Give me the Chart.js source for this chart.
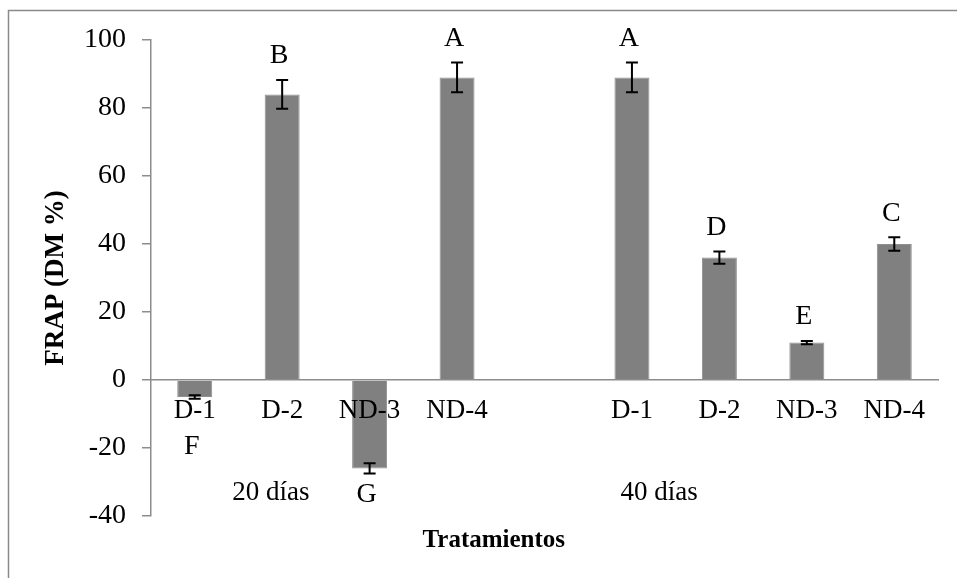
<!DOCTYPE html>
<html>
<head>
<meta charset="utf-8">
<script src="https://cdn.jsdelivr.net/npm/chart.js@4/dist/chart.umd.min.js"></script>
<style>
  html, body { margin: 0; padding: 0; background: #fff; }
  #wrap { width: 957px; height: 578px; position: relative; }
</style>
</head>
<body>
<div id="wrap"><canvas id="chart"></canvas></div>
<script>
const categories = ['D-1', 'D-2', 'ND-3', 'ND-4', '', 'D-1', 'D-2', 'ND-3', 'ND-4'];
const frap = [-5, 84, -26, 89, null, 89, 36, 11, 40];
const errors = [0.5, 4.2, 1.5, 4.4, null, 4.4, 1.8, 0.5, 2];
const letters = ['F', 'B', 'G', 'A', '', 'A', 'D', 'E', 'C'];
const groups = ['20 días', '40 días'];

const serif = '"Liberation Serif", "Times New Roman", serif';
const axisGray = '#8c8c8c';

// marco del gráfico (solo arriba e izquierda, como en el original)
const framePlugin = {
  id: 'frame',
  beforeDraw(chart) {
    const c = chart.ctx;
    c.save();
    c.strokeStyle = '#8a8a8a';
    c.lineWidth = 1.5;
    c.beginPath();
    c.moveTo(8.5, chart.height);
    c.lineTo(8.5, 10.5);
    c.lineTo(chart.width, 10.5);
    c.stroke();
    c.restore();
  }
};

// barras de error + letras
const errorPlugin = {
  id: 'errors',
  afterDatasetsDraw(chart) {
    const c = chart.ctx;
    const y = chart.scales.y;
    const meta = chart.getDatasetMeta(0);
    const zero = y.getPixelForValue(0);
    c.save();
    c.strokeStyle = '#000';
    c.lineWidth = 2;
    c.fillStyle = '#000';
    c.font = '28px ' + serif;
    c.textAlign = 'center';
    c.textBaseline = 'middle';
    frap.forEach((v, i) => {
      if (v === null) return;
      const x = meta.data[i].x;
      const top = y.getPixelForValue(v + errors[i]);
      const bot = y.getPixelForValue(v - errors[i]);
      c.beginPath();
      c.moveTo(x, top); c.lineTo(x, bot);
      c.moveTo(x - 6, top); c.lineTo(x + 6, top);
      c.moveTo(x - 6, bot); c.lineTo(x + 6, bot);
      c.stroke();
      if (!letters[i]) return;
      let ly;
      if (v >= 0) ly = top - 24;
      else ly = Math.max(bot + 21, zero + 67);
      c.fillText(letters[i], x - 3, ly);
    });
    c.restore();
  }
};

// etiquetas de grupo y título del eje x
const groupPlugin = {
  id: 'groups',
  afterDraw(chart) {
    const c = chart.ctx;
    const xs = chart.scales.x;
    const zero = chart.scales.y.getPixelForValue(0);
    const at = [0.87, 5.31];
    c.save();
    c.fillStyle = '#000';
    c.textAlign = 'center';
    c.textBaseline = 'middle';
    c.font = '27px ' + serif;
    groups.forEach((g, i) => c.fillText(g, xs.getPixelForValue(at[i]), zero + 113));
    c.font = 'bold 25px ' + serif;
    c.fillText('Tratamientos', xs.getPixelForValue(3.42), zero + 161);
    c.restore();
  }
};

const ctx = document.getElementById('chart').getContext('2d');
new Chart(ctx, {
  type: 'bar',
  data: {
    labels: categories,
    datasets: [{
      data: frap,
      backgroundColor: '#808080',
      borderColor: '#8f8f8f',
      borderWidth: 1,
      categoryPercentage: 1,
      barPercentage: 0.4,
    }],
  },
  options: {
    responsive: true,
    maintainAspectRatio: false,
    animation: false,
    layout: { padding: { left: 0, top: 40, right: 19, bottom: 62 } },
    plugins: {
      legend: { display: false },
      tooltip: { enabled: false },
    },
    scales: {
      x: {
        position: { y: 0 },
        grid: { display: false, drawTicks: false },
        border: { display: true, color: axisGray, width: 1.5, z: 1 },
        ticks: {
          z: 1,
          autoSkip: false,
          maxRotation: 0,
          padding: 15,
          color: '#000',
          font: { family: serif, size: 27 },
        },
      },
      y: {
        min: -40,
        max: 100,
        afterFit(scale) { scale.width = 151; },
        grid: { display: true, drawOnChartArea: false, drawTicks: true, tickLength: 9, color: axisGray, lineWidth: 1.5 },
        border: { display: true, color: axisGray, width: 1.5 },
        ticks: {
          stepSize: 20,
          padding: 16,
          color: '#000',
          font: { family: serif, size: 28 },
        },
        title: {
          display: true,
          text: 'FRAP (DM %)',
          color: '#000',
          font: { family: serif, size: 27, weight: 'bold' },
          padding: { top: 40, bottom: 0 },
        },
      },
    },
  },
  plugins: [framePlugin, errorPlugin, groupPlugin],
});
</script>
</body>
</html>
